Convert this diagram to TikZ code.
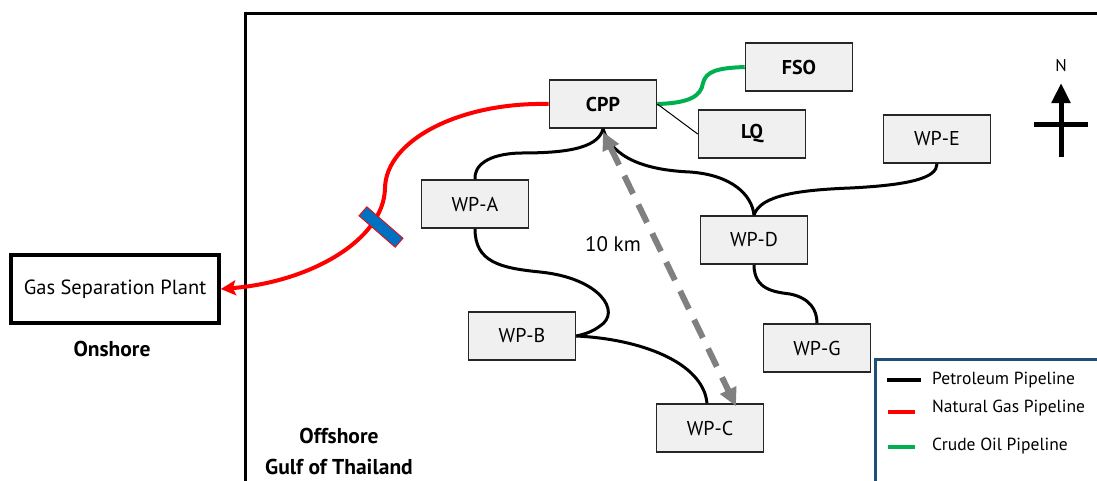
\documentclass[tikz,border=0pt]{standalone}
\usepackage{fontspec}
\setmainfont{PT Sans}
\usetikzlibrary{arrows.meta}

\definecolor{boxfill}{HTML}{F0F0F0}
\definecolor{gasred}{HTML}{FF0000}
\definecolor{oilgreen}{HTML}{00B050}
\definecolor{valveblue}{HTML}{0070C0}
\definecolor{legendblue}{HTML}{1F4E79}
\definecolor{distgray}{HTML}{808080}

\tikzset{
  platform/.style={draw=black!85, line width=1.6pt, fill=boxfill,
    minimum width=107pt, minimum height=48pt, inner sep=0pt,
    font=\fontsize{20}{24}\selectfont},
  boldplatform/.style={platform, font=\fontsize{20}{24}\selectfont\bfseries},
  plant/.style={draw=black, line width=3.5pt, fill=white,
    minimum width=208pt, minimum height=68pt, inner sep=0pt,
    font=\fontsize{20.5}{24}\selectfont},
  petro/.style={line width=3pt, black},
  gas/.style={line width=4pt, gasred},
  oil/.style={line width=4pt, oilgreen},
  plainlbl/.style={inner sep=0pt, font=\fontsize{21}{24}\selectfont},
  boldlbl/.style={inner sep=0pt, font=\fontsize{21.5}{25}\selectfont\bfseries},
  legendlbl/.style={inner sep=0pt, anchor=west, font=\fontsize{17.5}{21}\selectfont},
  valve/.style={draw=gasred, line width=0.8pt, fill=valveblue,
    minimum width=48pt, minimum height=12pt, inner sep=0pt},
}

\begin{document}
\begin{tikzpicture}[x=1pt, y=-1pt]
\useasboundingbox (0,0) rectangle (1097,480);
\clip (0,0) rectangle (1097,480);

% offshore area frame
\draw[line width=3pt] (245,482) -- (245,13) -- (1099,13);

% platforms
\node[boldplatform] (cpp) at (603,104) {CPP};
\node[boldplatform] (fso) at (799,67) {FSO};
\node[boldplatform] (lq)  at (752,134) {LQ};
\node[platform] (wpe) at (937,139) {WP-E};
\node[platform] (wpa) at (475,204) {WP-A};
\node[platform] (wpd) at (754,240) {WP-D};
\node[platform] (wpb) at (522,336) {WP-B};
\node[platform] (wpg) at (817,348) {WP-G};
\node[platform] (wpc) at (710,428) {WP-C};

% onshore plant
\node[plant] (gsp) at (115,289) {Gas Separation Plant};
\node[boldlbl] (onshore) at (112,349) {Onshore};
\node[boldlbl] (offshore) at (339,436) {Offshore};
\node[boldlbl] (gulf) at (339,467) {Gulf of Thailand};

% natural gas pipeline to shore
\draw[gas, -{Stealth[length=15pt,width=15pt,inset=3pt]}]
  (cpp.west) .. controls (460,102) and (386,140) .. (385,188)
  .. controls (384,240) and (310,282) .. (gsp.east);
\node[valve, rotate=-41] (valve) at (381,227) {};

% crude oil line to FSO
\draw[oil] (cpp.east) .. controls (690,103) and (701,96) .. (703,83)
  .. controls (706,71) and (718,68) .. (fso.west);

% link to living quarters
\draw[line width=1pt] (cpp.east) -- (lq.west);

% petroleum pipelines
\draw[petro] (cpp.south) .. controls (598,150) and (560,153) .. (520,153)
  .. controls (487,154) and (474,166) .. (wpa.north);
\draw[petro] (cpp.south) .. controls (612,158) and (645,170) .. (690,172)
  .. controls (732,175) and (752,195) .. (wpd.north);
\draw[petro] (wpd.north) .. controls (760,195) and (800,190) .. (850,188)
  .. controls (910,185) and (937,178) .. (wpe.south);
\draw[petro] (wpd.south) .. controls (754,290) and (775,292) .. (790,294)
  .. controls (810,298) and (817,310) .. (wpg.north);
\draw[petro] (wpa.south) .. controls (475,262) and (500,268) .. (540,272)
  .. controls (600,278) and (622,312) .. (600,326)
  .. controls (592,332) and (585,334) .. (wpb.east);
\draw[petro] (wpb.east) .. controls (640,339) and (703,362) .. ([xshift=-3pt]wpc.north);

% distance indicator
\draw[distgray, line width=6pt, dash pattern=on 20pt off 12pt,
  {Triangle[length=18pt,width=17pt]}-{Triangle[length=18pt,width=17pt]}]
  ([yshift=-3pt]cpp.south) -- ([xshift=26pt,yshift=-3pt]wpc.north);
\node[plainlbl] (dist) at (613,244) {10 km};

% north arrow
\node[inner sep=0pt, font=\fontsize{17}{20}\selectfont] (north) at (1061,66) {N};
\coordinate (nbase) at (1061,157);
\coordinate (ntip) at (1061,83);
\coordinate (barw) at (1034,124);
\coordinate (bare) at (1088,124);
\draw[line width=5pt, -{Triangle[length=20pt,width=18pt]}] (nbase) -- (ntip);
\draw[line width=5pt] (barw) -- (bare);

% legend
\draw[legendblue, line width=3pt, fill=white] (875,359) rectangle (1110,495);
\draw[line width=4pt, black] (887,380) -- (921,380);
\node[legendlbl] (lpetro) at (932,380) {Petroleum Pipeline};
\draw[line width=4pt, gasred] (888,412) -- (915,412);
\node[legendlbl] (lgas) at (932,408) {Natural Gas Pipeline};
\draw[line width=4pt, oilgreen] (888,447) -- (915,447);
\node[legendlbl] (loil) at (932,446) {Crude Oil Pipeline};
\end{tikzpicture}
\end{document}
